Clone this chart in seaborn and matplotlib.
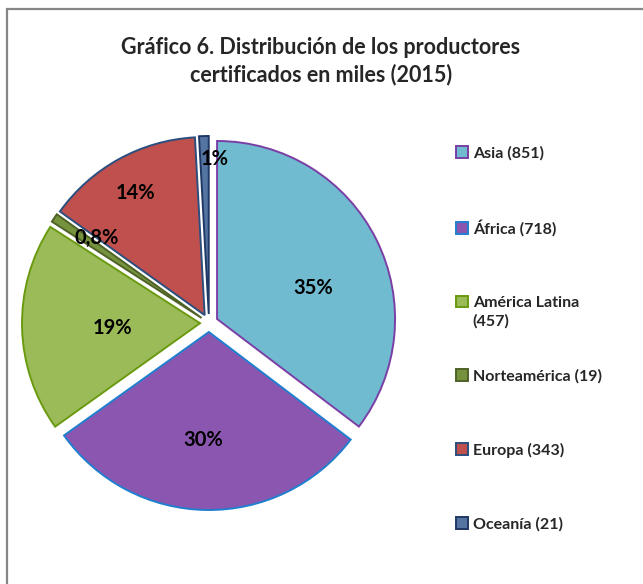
import numpy as np
import matplotlib
matplotlib.use("Agg")
import matplotlib.pyplot as plt
import matplotlib.patches as mpatches
import seaborn as sns

# data
regions = ['Asia (851)', 'África (718)', 'América Latina',
           'Norteamérica (19)', 'Europa (343)', 'Oceanía (21)']
region_extra = {2: '(457)'}  # second line of the wrapped legend entry
producers = [851, 718, 457, 19, 343, 21]
pct_labels = ['35%', '30%', '19%', '0,8%', '14%', '1%']

face_colors = ['#70BBD0', '#8B56B0', '#9BBB59', '#76923C', '#C0504D', '#5474A2']
edge_colors = ['#7A3FA6', '#1F7FCF', '#6A9A10', '#4F6228', '#2A4E7E', '#1F3864']

sns.set_theme(style="white")
plt.rcParams['font.family'] = ['Lato', 'DejaVu Sans']

fig = plt.figure(figsize=(6.43, 5.84), dpi=100)
ax = fig.add_axes([0, 0, 1, 1])

# chart area border (cut off at right and bottom like the original)
fig.patches.append(mpatches.Rectangle(
    (7 / 643, -0.05), 1.1, (584 - 9) / 584 + 0.05,
    transform=fig.transFigure, fill=False, edgecolor='#868686', lw=1.6))

cx, cy, rad = 209, 584 - 323, 178
wedges, _ = ax.pie(
    producers, colors=face_colors, startangle=90, counterclock=False,
    explode=[9] * len(producers), center=(cx, cy), radius=rad,
    wedgeprops=dict(linewidth=1.4), frame=True)
for w, ec in zip(wedges, edge_colors):
    w.set_edgecolor(ec)
ax.set_xlim(0, 643)
ax.set_ylim(0, 584)
ax.set_aspect('equal')
ax.axis('off')

# percentage labels, placed roughly where excel put them
label_dist = [0.62, 0.66, 0.545, 0.79, 0.84, 0.92]
label_shift = [-8, -2, 1.5, -3, 0.7, -3.5]
for w, txt, d, s in zip(wedges, pct_labels, label_dist, label_shift):
    ang = np.deg2rad((w.theta1 + w.theta2) / 2 + s)
    ax.text(cx + d * rad * np.cos(ang), cy + d * rad * np.sin(ang), txt,
            ha='center', va='center', fontsize=14.5, fontweight='bold',
            color='black')

fig.text(321 / 643, 1 - 61 / 584,
         'Gráfico 6. Distribución de los productores\n'
         'certificados en miles (2015)',
         ha='center', va='center', fontsize=15.5, fontweight='bold',
         linespacing=1.3)

leg = ax.legend(wedges, regions, loc='upper left',
                bbox_to_anchor=(456, 584 - 146), bbox_transform=ax.transData,
                frameon=False, borderpad=0, borderaxespad=0,
                handlelength=0.75, handleheight=0.75, handletextpad=0.3,
                labelspacing=3.7,
                prop=dict(size=11.5, weight='bold'))

# excel wraps the long entry without pushing the others down,
# so put the second line under the legend text once it is laid out
fig.canvas.draw()
for i, extra in region_extra.items():
    bb = leg.get_texts()[i].get_window_extent()
    fig.text(bb.x0 / 643, (bb.y0 - 4) / 584, extra,
             ha='left', va='top', fontsize=11.5, fontweight='bold')

fig.savefig('out.png', dpi=100)
